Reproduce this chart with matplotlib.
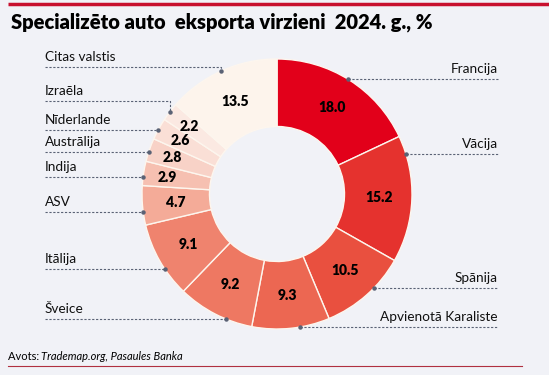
import numpy as np
import matplotlib.pyplot as plt

# data
countries = ['Francija', 'Vācija', 'Spānija', 'Apvienotā Karaliste', 'Šveice',
             'Itālija', 'ASV', 'Indija', 'Austrālija', 'Nīderlande', 'Izraēla',
             'Citas valstis']
shares = [18.0, 15.2, 10.5, 9.3, 9.2, 9.1, 4.7, 2.9, 2.8, 2.6, 2.2, 13.5]
colors = ['#e2001a', '#e5322e', '#e9503f', '#ec6752', '#ee7862', '#ef836e',
          '#f4ab98', '#f6c0b1', '#f8d2c7', '#fadfd6', '#fbe9e2', '#fdf4ec']

# layout (pixel coords, y measured from top)
W, H = 549, 375
cx, cy, R = 277, 194, 135
# label line y, side, elbow
label_y = {'Francija': 79, 'Vācija': 154, 'Spānija': 288,
           'Apvienotā Karaliste': 327, 'Šveice': 319, 'Itālija': 269,
           'ASV': 212, 'Indija': 177, 'Austrālija': 152, 'Nīderlande': 130,
           'Izraēla': 101, 'Citas valstis': 67}
elbow = ['Izraēla', 'Citas valstis']

bg = '#f1f2f7'
fig = plt.figure(figsize=(W / 100, H / 100), dpi=100, facecolor=bg)
ax = fig.add_axes([0, 0, 1, 1])
ax.set_xlim(0, W)
ax.set_ylim(0, H)
ax.set_aspect('equal')
ax.axis('off')

wedges, _ = ax.pie(shares, colors=colors, startangle=90, counterclock=False,
                   center=(cx, H - cy), radius=R,
                   wedgeprops=dict(width=R * 0.5, edgecolor='#fdf6ee', linewidth=1))
ax.set_xlim(0, W)
ax.set_ylim(0, H)

fam = ['Lato', 'DejaVu Sans']
line_col = '#5a6275'
for w, name, val in zip(wedges, countries, shares):
    mid = np.deg2rad((w.theta1 + w.theta2) / 2)
    rr = R * (0.82 if val < 3.5 else 0.755)
    ax.text(cx + rr * np.cos(mid), H - cy + rr * np.sin(mid), f'{val:.1f}',
            ha='center', va='center', fontsize=10, fontweight='heavy',
            family=fam, color='black')

    ly = H - label_y[name]
    right = np.cos(mid) > 0
    if name in elbow:
        px, py = cx + R * np.cos(mid), H - cy + R * np.sin(mid)
        ax.plot([45, px, px], [ly, ly, py], ls=(0, (2, 1.5)), lw=0.8, color=line_col)
    else:
        dy = ly - (H - cy)
        dx = np.sqrt(max(R ** 2 - dy ** 2, 0))
        px, py = (cx + dx, ly) if right else (cx - dx, ly)
        if right:
            ax.plot([px, 498], [ly, ly], ls=(0, (2, 1.5)), lw=0.8, color=line_col)
        else:
            ax.plot([45, px], [ly, ly], ls=(0, (2, 1.5)), lw=0.8, color=line_col)
    ax.plot(px, py, 'o', ms=2.2, color=line_col)
    if right:
        ax.text(498, ly + 4, name, ha='right', va='bottom', fontsize=9.8,
                family=fam, color='#111111')
    else:
        ax.text(45, ly + 4, name, ha='left', va='bottom', fontsize=9.8,
                family=fam, color='#111111')

# title, source, rules
ax.plot([8, W], [H - 4, H - 4], color='#c8102e', lw=2.5, solid_capstyle='butt')
ax.text(11, H - 22, 'Specializēto auto  eksporta virzieni  2024. g., %',
        ha='left', va='center', fontsize=14.5, fontweight='heavy', family=fam)
ax.text(8, H - 357, 'Avots: ', ha='left', va='center', fontsize=8, family=fam)
ax.text(41, H - 357, 'Trademap.org, Pasaules Banka', ha='left', va='center',
        fontsize=8, family=fam, style='italic')
ax.plot([8, 522], [H - 366, H - 366], color='#b03040', lw=0.8)

fig.savefig('out.png', dpi=100, facecolor=bg)
